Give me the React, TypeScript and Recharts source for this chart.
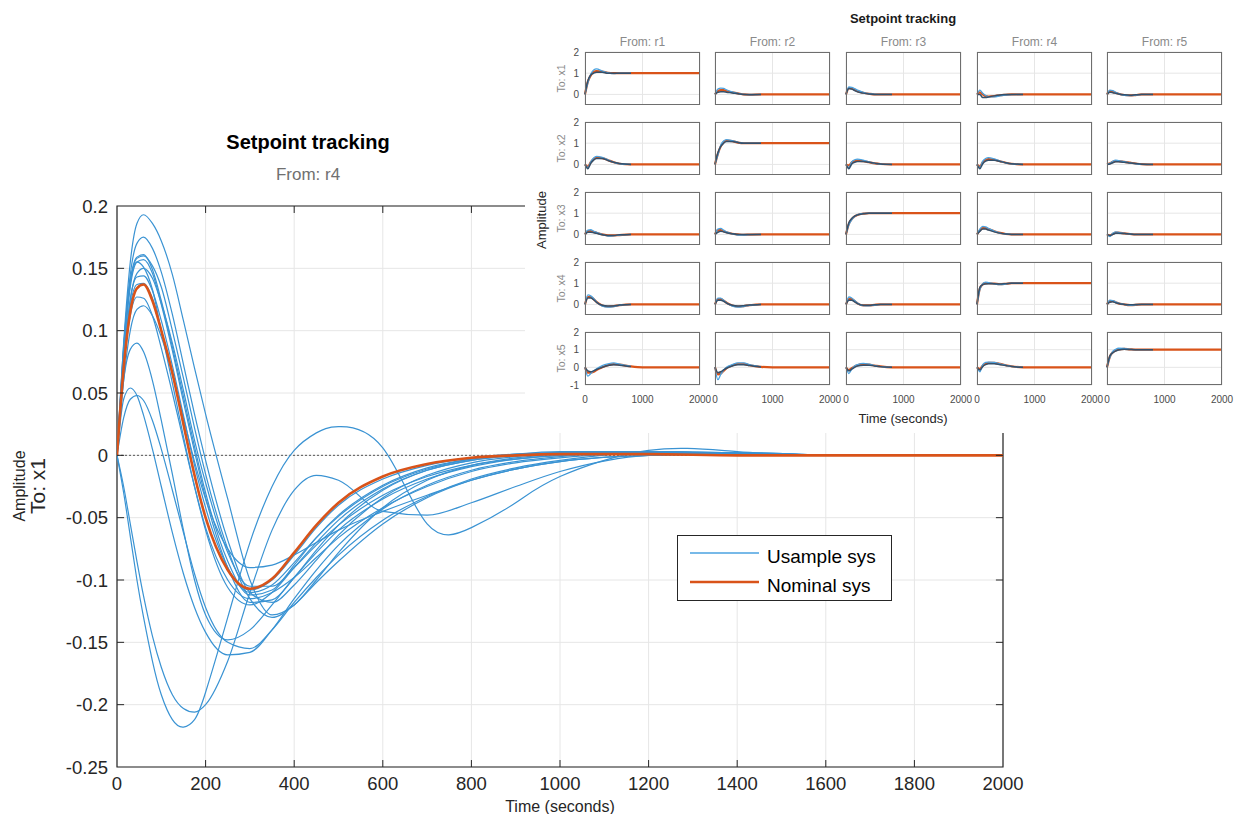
import React from 'react';
import { LineChart, Line, XAxis, YAxis, CartesianGrid, ReferenceLine, ReferenceArea } from 'recharts';

// ---------------- main plot data (From: r4 -> To: x1) ----------------
const TIME = [0, 15, 30, 45, 60, 80, 100, 125, 150, 175, 200, 250, 300, 350, 400, 450, 500, 600, 700, 800, 900, 1000, 1200, 1400, 1600, 2000];
const NOMINAL = [0, 0.07, 0.115, 0.134, 0.137, 0.124, 0.1, 0.066, 0.025, -0.016, -0.05, -0.092, -0.107, -0.099, -0.078, -0.056, -0.038, -0.017, -0.007, -0.002, 0, 0.001, 0.001, 0, 0, 0];
const SAMPLE_1 = [0, 0.09, 0.155, 0.186, 0.193, 0.186, 0.172, 0.145, 0.108, 0.07, 0.033, -0.035, -0.1, -0.128, -0.12, -0.1, -0.078, -0.042, -0.02, -0.008, -0.002, 0.001, 0.003, 0.001, 0, null];
const SAMPLE_2 = [0, 0.085, 0.145, 0.17, 0.175, 0.166, 0.147, 0.113, 0.073, 0.033, -0.004, -0.068, -0.11, -0.118, -0.104, -0.084, -0.064, -0.034, -0.016, -0.006, -0.001, 0.002, 0.002, 0.001, 0, null];
const SAMPLE_3 = [0, 0.085, 0.14, 0.159, 0.161, 0.149, 0.124, 0.087, 0.047, 0.007, -0.03, -0.085, -0.112, -0.108, -0.088, -0.066, -0.048, -0.024, -0.01, -0.003, 0, 0.002, 0.002, 0.001, 0, null];
const SAMPLE_4 = [0, 0.08, 0.135, 0.155, 0.157, 0.146, 0.121, 0.084, 0.043, 0.003, -0.034, -0.09, -0.118, -0.116, -0.098, -0.076, -0.056, -0.028, -0.012, -0.004, 0, 0.002, 0.002, 0.001, 0, null];
const SAMPLE_5 = [0, 0.088, 0.14, 0.155, 0.151, 0.133, 0.1, 0.058, 0.015, -0.025, -0.06, -0.106, -0.12, -0.11, -0.09, -0.07, -0.052, -0.027, -0.012, -0.004, 0, 0.002, 0.003, 0.001, 0, null];
const SAMPLE_6 = [0, 0.07, 0.125, 0.146, 0.15, 0.142, 0.122, 0.09, 0.052, 0.012, -0.022, -0.078, -0.105, -0.105, -0.09, -0.072, -0.056, -0.032, -0.017, -0.008, -0.003, 0, 0.002, 0.001, 0, null];
const SAMPLE_7 = [0, 0.075, 0.125, 0.143, 0.144, 0.132, 0.108, 0.072, 0.032, -0.008, -0.042, -0.09, -0.11, -0.104, -0.086, -0.066, -0.049, -0.025, -0.011, -0.003, 0.001, 0.003, 0.003, 0.001, 0, null];
const SAMPLE_8 = [0, 0.07, 0.112, 0.127, 0.126, 0.112, 0.086, 0.05, 0.012, -0.025, -0.058, -0.1, -0.115, -0.11, -0.098, -0.082, -0.066, -0.042, -0.025, -0.013, -0.006, -0.002, 0.002, 0.001, 0, null];
const SAMPLE_9 = [0, 0.06, 0.1, 0.117, 0.12, 0.112, 0.095, 0.065, 0.03, -0.005, -0.035, -0.075, -0.09, -0.088, -0.08, -0.07, -0.06, -0.045, -0.032, -0.02, -0.011, -0.005, 0, 0.001, 0, null];
const SAMPLE_10 = [0, 0.06, 0.085, 0.09, 0.083, 0.06, 0.028, -0.015, -0.06, -0.1, -0.128, -0.148, -0.14, -0.12, -0.098, -0.078, -0.06, -0.035, -0.019, -0.009, -0.003, 0, 0.003, 0.002, 0, null];
const SAMPLE_11 = [0, 0.045, 0.054, 0.048, 0.032, 0.005, -0.025, -0.062, -0.095, -0.122, -0.142, -0.16, -0.158, -0.14, -0.115, -0.092, -0.072, -0.043, -0.024, -0.012, -0.005, -0.001, 0.003, 0.002, 0, null];
const SAMPLE_12 = [0, 0.03, 0.045, 0.048, 0.044, 0.028, 0.005, -0.028, -0.062, -0.095, -0.122, -0.15, -0.155, -0.14, -0.118, -0.098, -0.08, -0.052, -0.033, -0.019, -0.01, -0.004, 0.002, 0.002, 0, null];
const SAMPLE_13 = [0, -0.03, -0.065, -0.1, -0.13, -0.165, -0.192, -0.212, -0.218, -0.212, -0.19, -0.13, -0.07, -0.025, 0.004, 0.018, 0.023, 0.006, -0.055, -0.058, -0.038, -0.017, 0.004, 0.003, 0, null];
const SAMPLE_14 = [0, -0.025, -0.055, -0.085, -0.113, -0.145, -0.17, -0.192, -0.203, -0.206, -0.2, -0.165, -0.11, -0.06, -0.028, -0.016, -0.02, -0.045, -0.048, -0.038, -0.025, -0.013, 0, 0.002, 0, null];
const SAMPLE_15 = [0, 0.08, 0.138, 0.158, 0.16, 0.152, 0.135, 0.1, 0.062, 0.022, -0.015, -0.075, -0.115, -0.13, -0.12, -0.102, -0.085, -0.055, -0.034, -0.02, -0.011, -0.005, 0, 0.001, 0, null];
const SAMPLE_16 = [0, 0.072, 0.12, 0.137, 0.138, 0.126, 0.1, 0.066, 0.024, -0.016, -0.05, -0.092, -0.108, -0.1, -0.08, -0.058, -0.04, -0.019, -0.008, -0.002, 0.001, 0.002, 0.002, 0.001, 0, null];
const SAMPLES = [SAMPLE_1, SAMPLE_2, SAMPLE_3, SAMPLE_4, SAMPLE_5, SAMPLE_6, SAMPLE_7, SAMPLE_8, SAMPLE_9, SAMPLE_10, SAMPLE_11, SAMPLE_12, SAMPLE_13, SAMPLE_14, SAMPLE_15, SAMPLE_16];
// curve shape used to draw each sample (the late-oscillating one is smoothed with a spline)
const SAMPLE_CURVE = ['monotone', 'monotone', 'monotone', 'monotone', 'monotone', 'monotone', 'monotone', 'monotone', 'monotone', 'monotone', 'monotone', 'monotone', 'natural', 'monotone', 'monotone', 'monotone'];

const X_TICKS = [0, 200, 400, 600, 800, 1000, 1200, 1400, 1600, 1800, 2000];
const Y_TICKS = [-0.25, -0.2, -0.15, -0.1, -0.05, 0, 0.05, 0.1, 0.15, 0.2];
const X_DOMAIN = [0, 2000];
const Y_DOMAIN = [-0.25, 0.2];

// ---------------- inset (5x5 step responses) ----------------
const INSET_TIME = [0, 50, 100, 150, 200, 300, 400, 500, 600, 800, 1000, 1500, 2000];
const INSET_COL_TITLES = ['From: r1', 'From: r2', 'From: r3', 'From: r4', 'From: r5'];
const INSET_ROW_TITLES = ['To: x1', 'To: x2', 'To: x3', 'To: x4', 'To: x5'];
const INSET_X_TICKS = [0, 1000, 2000];

const NOM_X1 = [
  [0, 0.6, 0.9, 1.05, 1.1, 1.08, 1.02, 1.0, 1.0, 1, 1, 1, 1],
  [0, 0.15, 0.2, 0.2, 0.15, 0.1, 0.05, 0.0, -0.02, 0, 0, 0, 0],
  [0, 0.3, 0.28, 0.22, 0.15, 0.08, 0.03, 0, 0, 0, 0, 0, 0],
  [0, 0.1, 0.0, -0.08, -0.1, -0.08, -0.04, -0.02, 0, 0, 0, 0, 0],
  [0, 0.15, 0.12, 0.08, 0.03, -0.03, -0.05, -0.03, 0, 0, 0, 0, 0],
];
const NOM_X2 = [
  [0, -0.1, 0.1, 0.25, 0.32, 0.3, 0.2, 0.1, 0.03, 0, 0, 0, 0],
  [0, 0.5, 0.85, 1.05, 1.12, 1.1, 1.03, 1.0, 1, 1, 1, 1, 1],
  [0, -0.05, 0.1, 0.15, 0.18, 0.15, 0.1, 0.05, 0.02, 0, 0, 0, 0],
  [0, -0.1, 0.1, 0.2, 0.25, 0.22, 0.15, 0.08, 0.03, 0, 0, 0, 0],
  [0, 0.05, 0.12, 0.15, 0.15, 0.12, 0.08, 0.04, 0.01, 0, 0, 0, 0],
];
const NOM_X3 = [
  [0, 0.15, 0.15, 0.12, 0.08, 0.0, -0.05, -0.05, -0.03, 0, 0, 0, 0],
  [0, 0.2, 0.2, 0.15, 0.1, 0.03, 0, -0.02, -0.01, 0, 0, 0, 0],
  [0, 0.5, 0.72, 0.85, 0.92, 0.98, 1.0, 1.0, 1, 1, 1, 1, 1],
  [0, 0.2, 0.3, 0.3, 0.25, 0.15, 0.07, 0.02, 0, 0, 0, 0, 0],
  [0, -0.05, 0.02, 0.08, 0.08, 0.05, 0.02, 0, 0, 0, 0, 0, 0],
];
const NOM_X4 = [
  [0, 0.35, 0.35, 0.25, 0.12, -0.05, -0.1, -0.08, -0.04, 0, 0, 0, 0],
  [0, 0.25, 0.25, 0.18, 0.08, -0.05, -0.1, -0.08, -0.04, 0, 0, 0, 0],
  [0, 0.25, 0.25, 0.15, 0.05, -0.05, -0.05, -0.02, 0, 0, 0, 0, 0],
  [0, 0.75, 0.95, 1.0, 1.0, 0.98, 0.95, 0.97, 1.0, 1, 1, 1, 1],
  [0, 0.15, 0.15, 0.1, 0.05, 0, -0.03, -0.02, 0, 0, 0, 0, 0],
];
const NOM_X5 = [
  [0, -0.3, -0.3, -0.25, -0.15, 0.0, 0.12, 0.18, 0.15, 0.05, 0, 0, 0],
  [0, -0.4, -0.35, -0.2, -0.05, 0.1, 0.2, 0.2, 0.12, 0.03, 0, 0, 0],
  [0, -0.15, -0.05, 0.05, 0.12, 0.18, 0.15, 0.1, 0.05, 0, 0, 0, 0],
  [0, -0.1, 0.1, 0.2, 0.25, 0.25, 0.2, 0.12, 0.06, 0, 0, 0, 0],
  [0, 0.6, 0.85, 0.95, 1.02, 1.05, 1.02, 1.0, 1, 1, 1, 1, 1],
];

const SA_X1 = [
  [0, 0.55, 0.95, 1.15, 1.2, 1.1, 1.02, 0.98, 1.0, 1.0],
  [0, 0.25, 0.3, 0.28, 0.22, 0.12, 0.05, 0.0, -0.02, 0],
  [0, 0.35, 0.33, 0.27, 0.2, 0.1, 0.04, 0.01, 0, 0],
  [0, 0.2, 0.05, -0.05, -0.1, -0.12, -0.07, -0.03, -0.01, 0],
  [0, 0.2, 0.18, 0.1, 0.04, -0.04, -0.06, -0.03, 0, 0],
];
const SA_X2 = [
  [0, -0.15, 0.12, 0.3, 0.38, 0.33, 0.22, 0.1, 0.03, 0],
  [0, 0.45, 0.9, 1.1, 1.17, 1.12, 1.04, 1.0, 1.0, 1],
  [0, -0.15, 0.12, 0.22, 0.25, 0.2, 0.12, 0.05, 0.01, 0],
  [0, -0.15, 0.15, 0.28, 0.32, 0.26, 0.16, 0.07, 0.02, 0],
  [0, 0.05, 0.15, 0.2, 0.18, 0.13, 0.07, 0.03, 0, 0],
];
const SA_X3 = [
  [0, 0.2, 0.22, 0.15, 0.1, 0, -0.08, -0.06, -0.03, 0],
  [0, 0.25, 0.28, 0.2, 0.12, 0.02, -0.03, -0.03, -0.01, 0],
  [0, 0.45, 0.7, 0.85, 0.93, 0.99, 1.0, 1.0, 1, 1],
  [0, 0.25, 0.38, 0.35, 0.28, 0.15, 0.06, 0.02, 0, 0],
  [0, -0.1, 0.05, 0.12, 0.1, 0.05, 0.02, 0, 0, 0],
];
const SA_X4 = [
  [0, 0.45, 0.4, 0.28, 0.12, -0.08, -0.13, -0.1, -0.04, 0],
  [0, 0.3, 0.3, 0.2, 0.08, -0.08, -0.13, -0.1, -0.05, 0],
  [0, 0.35, 0.3, 0.18, 0.06, -0.06, -0.07, -0.03, 0, 0],
  [0, 0.7, 0.98, 1.05, 1.03, 0.97, 0.93, 0.96, 1.0, 1],
  [0, 0.2, 0.18, 0.12, 0.06, 0, -0.04, -0.02, 0, 0],
];
const SA_X5 = [
  [0, -0.5, -0.35, -0.2, -0.08, 0.1, 0.2, 0.25, 0.18, 0.05],
  [0, -0.7, -0.4, -0.15, 0.0, 0.15, 0.25, 0.25, 0.15, 0.03],
  [0, -0.35, -0.1, 0.08, 0.15, 0.22, 0.18, 0.1, 0.04, 0],
  [0, -0.25, 0.15, 0.28, 0.3, 0.28, 0.2, 0.12, 0.05, 0],
  [0, 0.55, 0.9, 1.02, 1.08, 1.07, 1.02, 1.0, 1, 1],
];

const SB_X1 = [
  [0, 0.65, 0.92, 1.0, 1.05, 1.05, 1.0, 1.0, 1.0, 1],
  [0, 0.1, 0.12, 0.12, 0.1, 0.07, 0.03, 0, -0.01, 0],
  [0, 0.28, 0.25, 0.18, 0.12, 0.06, 0.02, 0, 0, 0],
  [0, 0.0, -0.15, -0.15, -0.12, -0.07, -0.03, -0.01, 0, 0],
  [0, 0.1, 0.08, 0.05, 0.02, -0.02, -0.04, -0.02, 0, 0],
];
const SB_X2 = [
  [0, -0.2, 0.05, 0.2, 0.28, 0.28, 0.18, 0.1, 0.04, 0],
  [0, 0.55, 0.85, 1.0, 1.08, 1.08, 1.03, 1.0, 1, 1],
  [0, -0.2, 0.02, 0.1, 0.14, 0.14, 0.1, 0.06, 0.02, 0],
  [0, -0.2, 0.03, 0.15, 0.2, 0.2, 0.14, 0.08, 0.03, 0],
  [0, 0.02, 0.08, 0.12, 0.12, 0.1, 0.07, 0.04, 0.01, 0],
];
const SB_X3 = [
  [0, 0.1, 0.1, 0.08, 0.05, -0.02, -0.05, -0.05, -0.02, 0],
  [0, 0.1, 0.15, 0.12, 0.08, 0.03, 0, -0.01, 0, 0],
  [0, 0.55, 0.75, 0.86, 0.92, 0.97, 1, 1, 1, 1],
  [0, 0.15, 0.25, 0.25, 0.2, 0.12, 0.06, 0.02, 0, 0],
  [0, -0.05, 0.0, 0.05, 0.06, 0.04, 0.02, 0, 0, 0],
];
const SB_X4 = [
  [0, 0.3, 0.3, 0.22, 0.1, -0.04, -0.08, -0.07, -0.03, 0],
  [0, 0.2, 0.2, 0.15, 0.06, -0.04, -0.08, -0.06, -0.03, 0],
  [0, 0.2, 0.2, 0.12, 0.04, -0.04, -0.04, -0.02, 0, 0],
  [0, 0.8, 0.93, 0.96, 0.97, 0.97, 0.96, 0.98, 1, 1],
  [0, 0.1, 0.12, 0.08, 0.04, 0, -0.02, -0.01, 0, 0],
];
const SB_X5 = [
  [0, -0.2, -0.25, -0.2, -0.12, 0, 0.1, 0.15, 0.12, 0.04],
  [0, -0.3, -0.25, -0.15, -0.05, 0.08, 0.15, 0.15, 0.1, 0.02],
  [0, -0.2, -0.1, 0.0, 0.08, 0.12, 0.12, 0.08, 0.04, 0],
  [0, -0.15, 0.05, 0.15, 0.2, 0.2, 0.15, 0.1, 0.05, 0],
  [0, 0.65, 0.82, 0.92, 0.98, 1.02, 1.01, 1.0, 1, 1],
];

const INSET_NOMINAL = [NOM_X1, NOM_X2, NOM_X3, NOM_X4, NOM_X5];
const INSET_SAMPLE_A = [SA_X1, SA_X2, SA_X3, SA_X4, SA_X5];
const INSET_SAMPLE_B = [SB_X1, SB_X2, SB_X3, SB_X4, SB_X5];

// ---------------- styling / layout ----------------
const FONT = '"Liberation Sans", Arial, Helvetica, sans-serif';
const AXIS_COLOR = '#262626';
const BLUE = '#3a93d3';
const ORANGE = '#D95319';
const COL_X = [585, 715, 846, 977, 1107];
const ROW_Y = [52, 122, 192, 262, 332];
const PANEL_W = 115;
const PANEL_H = 53;
// inward tick length, in data units (about 7 px on each axis)
const X_TICK_LEN = 16;
const Y_TICK_LEN = 0.0056;

const mainData = TIME.map((t, i) => {
  const row: Record<string, number | null> = { t, n: NOMINAL[i] };
  SAMPLES.forEach((s, k) => {
    row['s' + k] = s[i];
  });
  return row;
});

function InsetPanel({ r, c }: { r: number; c: number }) {
  const showY = c === 0;
  const showX = r === 4;
  const yW = showY ? 24 : 0;
  const xH = showX ? 26 : 0;
  const padL = showY ? 0 : 14;
  const padR = 14;
  const padT = 6;
  const padB = showX ? 0 : 6;
  const width = padL + yW + PANEL_W + padR;
  const height = padT + PANEL_H + xH + padB;
  const yDomain = r === 4 ? [-1, 2] : [-0.5, 2];
  const yTicks = r === 4 ? [-1, 0, 1, 2] : [0, 1, 2];
  const nom = INSET_NOMINAL[r][c];
  const sa = INSET_SAMPLE_A[r][c];
  const sb = INSET_SAMPLE_B[r][c];
  const data = INSET_TIME.map((t, i) => ({
    t,
    n: nom[i],
    a: i < sa.length ? sa[i] : null,
    b: i < sb.length ? sb[i] : null,
  }));
  return (
    <div style={{ position: 'absolute', left: COL_X[c] - yW - padL, top: ROW_Y[r] - padT, width, height }}>
      <LineChart width={width} height={height} data={data} margin={{ top: padT, right: padR, bottom: padB, left: padL }}>
        <CartesianGrid stroke="#e6e6e6" horizontalValues={yTicks} verticalValues={INSET_X_TICKS} />
        <XAxis
          dataKey="t"
          type="number"
          domain={[0, 2000]}
          ticks={INSET_X_TICKS}
          interval={0}
          hide={!showX}
          height={xH}
          tickSize={0}
          tickMargin={11}
          axisLine={false}
          tick={{ fontSize: 10, fill: '#4a4a4a', fontFamily: FONT }}
        />
        <YAxis
          type="number"
          domain={yDomain}
          ticks={yTicks}
          interval={0}
          hide={!showY}
          width={yW}
          tickSize={0}
          tickMargin={6}
          axisLine={false}
          allowDataOverflow
          tick={{ fontSize: 10, fill: '#4a4a4a', fontFamily: FONT }}
        />
        <Line dataKey="n" type="monotone" stroke={ORANGE} strokeWidth={2.2} dot={false} isAnimationActive={false} />
        <Line dataKey="a" type="monotone" stroke="#4aa2e0" strokeWidth={1.3} dot={false} isAnimationActive={false} />
        <Line dataKey="b" type="monotone" stroke="#34506b" strokeWidth={1.5} dot={false} isAnimationActive={false} />
      </LineChart>
      <div
        style={{
          position: 'absolute',
          left: padL + yW,
          top: padT,
          width: PANEL_W,
          height: PANEL_H,
          border: '1px solid #6e6e6e',
          boxSizing: 'border-box',
          pointerEvents: 'none',
        }}
      />
    </div>
  );
}

export default function App() {
  const panels: React.ReactNode[] = [];
  for (let r = 0; r < 5; r++) {
    for (let c = 0; c < 5; c++) {
      panels.push(<InsetPanel key={r + '-' + c} r={r} c={c} />);
    }
  }
  const tickMarks: React.ReactNode[] = [];
  X_TICKS.slice(1, -1).forEach((x) => {
    tickMarks.push(
      <ReferenceLine key={'xb' + x} segment={[{ x, y: Y_DOMAIN[0] }, { x, y: Y_DOMAIN[0] + Y_TICK_LEN }]} stroke={AXIS_COLOR} ifOverflow="visible" />,
      <ReferenceLine key={'xt' + x} segment={[{ x, y: Y_DOMAIN[1] }, { x, y: Y_DOMAIN[1] - Y_TICK_LEN }]} stroke={AXIS_COLOR} ifOverflow="visible" />
    );
  });
  Y_TICKS.slice(1, -1).forEach((y) => {
    tickMarks.push(
      <ReferenceLine key={'yl' + y} segment={[{ x: X_DOMAIN[0], y }, { x: X_DOMAIN[0] + X_TICK_LEN, y }]} stroke={AXIS_COLOR} ifOverflow="visible" />,
      <ReferenceLine key={'yr' + y} segment={[{ x: X_DOMAIN[1], y }, { x: X_DOMAIN[1] - X_TICK_LEN, y }]} stroke={AXIS_COLOR} ifOverflow="visible" />
    );
  });
  return (
    <div style={{ position: 'absolute', left: 0, top: 0, width: 1236, height: 814, background: '#fff', fontFamily: FONT, overflow: 'hidden' }}>
      {/* main chart */}
      <div style={{ position: 'absolute', left: 0, top: 0 }}>
        <LineChart width={1236} height={814} data={mainData} margin={{ top: 206, right: 233, bottom: 5, left: 57 }}>
          <CartesianGrid stroke="#e6e6e6" />
          <XAxis
            dataKey="t"
            type="number"
            domain={X_DOMAIN}
            ticks={X_TICKS}
            interval={0}
            height={42}
            tickSize={0}
            tickMargin={10}
            axisLine={false}
            allowDataOverflow
            tick={{ fontSize: 18.5, fill: AXIS_COLOR, fontFamily: FONT }}
          />
          <YAxis
            type="number"
            domain={Y_DOMAIN}
            ticks={Y_TICKS}
            interval={0}
            width={60}
            tickSize={0}
            tickMargin={9}
            axisLine={false}
            allowDataOverflow
            tick={{ fontSize: 18.5, fill: AXIS_COLOR, fontFamily: FONT }}
          />
          <ReferenceLine y={0} stroke="#555" strokeDasharray="2 2" strokeWidth={1} />
          {SAMPLES.map((_, k) => (
            <Line
              key={k}
              dataKey={'s' + k}
              type={SAMPLE_CURVE[k] as 'monotone' | 'natural'}
              stroke={BLUE}
              strokeWidth={1.2}
              dot={false}
              isAnimationActive={false}
            />
          ))}
          <Line dataKey="n" type="monotone" stroke={ORANGE} strokeWidth={2.6} dot={false} isAnimationActive={false} />
          <ReferenceArea
            x1={X_DOMAIN[0]}
            x2={X_DOMAIN[1]}
            y1={Y_DOMAIN[0]}
            y2={Y_DOMAIN[1]}
            fill="none"
            fillOpacity={0}
            stroke={AXIS_COLOR}
            strokeWidth={1.2}
            ifOverflow="visible"
          />
          {tickMarks}
        </LineChart>
      </div>

      {/* main texts */}
      <svg width={1236} height={814} style={{ position: 'absolute', left: 0, top: 0, pointerEvents: 'none' }}>
        <text x={308} y={149} textAnchor="middle" fontSize={20} fontWeight="bold" fill="#000" fontFamily={FONT}>
          Setpoint tracking
        </text>
        <text x={308} y={180} textAnchor="middle" fontSize={17} fill="#707070" fontFamily={FONT}>
          From: r4
        </text>
        <text transform="translate(25,486) rotate(-90)" textAnchor="middle" fontSize={16} fill={AXIS_COLOR} fontFamily={FONT}>
          Amplitude
        </text>
        <text transform="translate(45,486) rotate(-90)" textAnchor="middle" fontSize={21} fill={AXIS_COLOR} fontFamily={FONT}>
          To: x1
        </text>
        <text x={560} y={812} textAnchor="middle" fontSize={16} fill={AXIS_COLOR} fontFamily={FONT}>
          Time (seconds)
        </text>
      </svg>

      {/* inset background */}
      <div style={{ position: 'absolute', left: 525, top: 0, width: 711, height: 433, background: '#fff' }} />
      {panels}
      <svg width={1236} height={814} style={{ position: 'absolute', left: 0, top: 0, pointerEvents: 'none' }}>
        <text x={903} y={23} textAnchor="middle" fontSize={13} fontWeight="bold" fill="#1a1a1a" fontFamily={FONT}>
          Setpoint tracking
        </text>
        {INSET_COL_TITLES.map((s, c) => (
          <text key={s} x={COL_X[c] + PANEL_W / 2} y={46} textAnchor="middle" fontSize={12} fill="#8a8a8a" fontFamily={FONT}>
            {s}
          </text>
        ))}
        {INSET_ROW_TITLES.map((s, r) => (
          <text
            key={s}
            transform={`translate(565,${ROW_Y[r] + PANEL_H / 2}) rotate(-90)`}
            textAnchor="middle"
            fontSize={10.5}
            fill="#8a8a8a"
            fontFamily={FONT}
          >
            {s}
          </text>
        ))}
        <text transform="translate(546,220) rotate(-90)" textAnchor="middle" fontSize={13} fill={AXIS_COLOR} fontFamily={FONT}>
          Amplitude
        </text>
        <text x={903} y={423} textAnchor="middle" fontSize={13} fill={AXIS_COLOR} fontFamily={FONT}>
          Time (seconds)
        </text>
      </svg>

      {/* legend */}
      <div
        style={{
          position: 'absolute',
          left: 677,
          top: 535,
          width: 215,
          height: 66,
          border: '1px solid #262626',
          background: '#fff',
          boxSizing: 'border-box',
        }}
      >
        <svg width={213} height={64} style={{ position: 'absolute', left: 0, top: 0 }}>
          <line x1={12} y1={17} x2={81} y2={17} stroke="#4aa2e0" strokeWidth={1.5} />
          <line x1={12} y1={46} x2={81} y2={46} stroke={ORANGE} strokeWidth={2.6} />
          <text x={89} y={27} fontSize={19} fill="#000" fontFamily={FONT}>
            Usample sys
          </text>
          <text x={89} y={56} fontSize={19} fill="#000" fontFamily={FONT}>
            Nominal sys
          </text>
        </svg>
      </div>
    </div>
  );
}
